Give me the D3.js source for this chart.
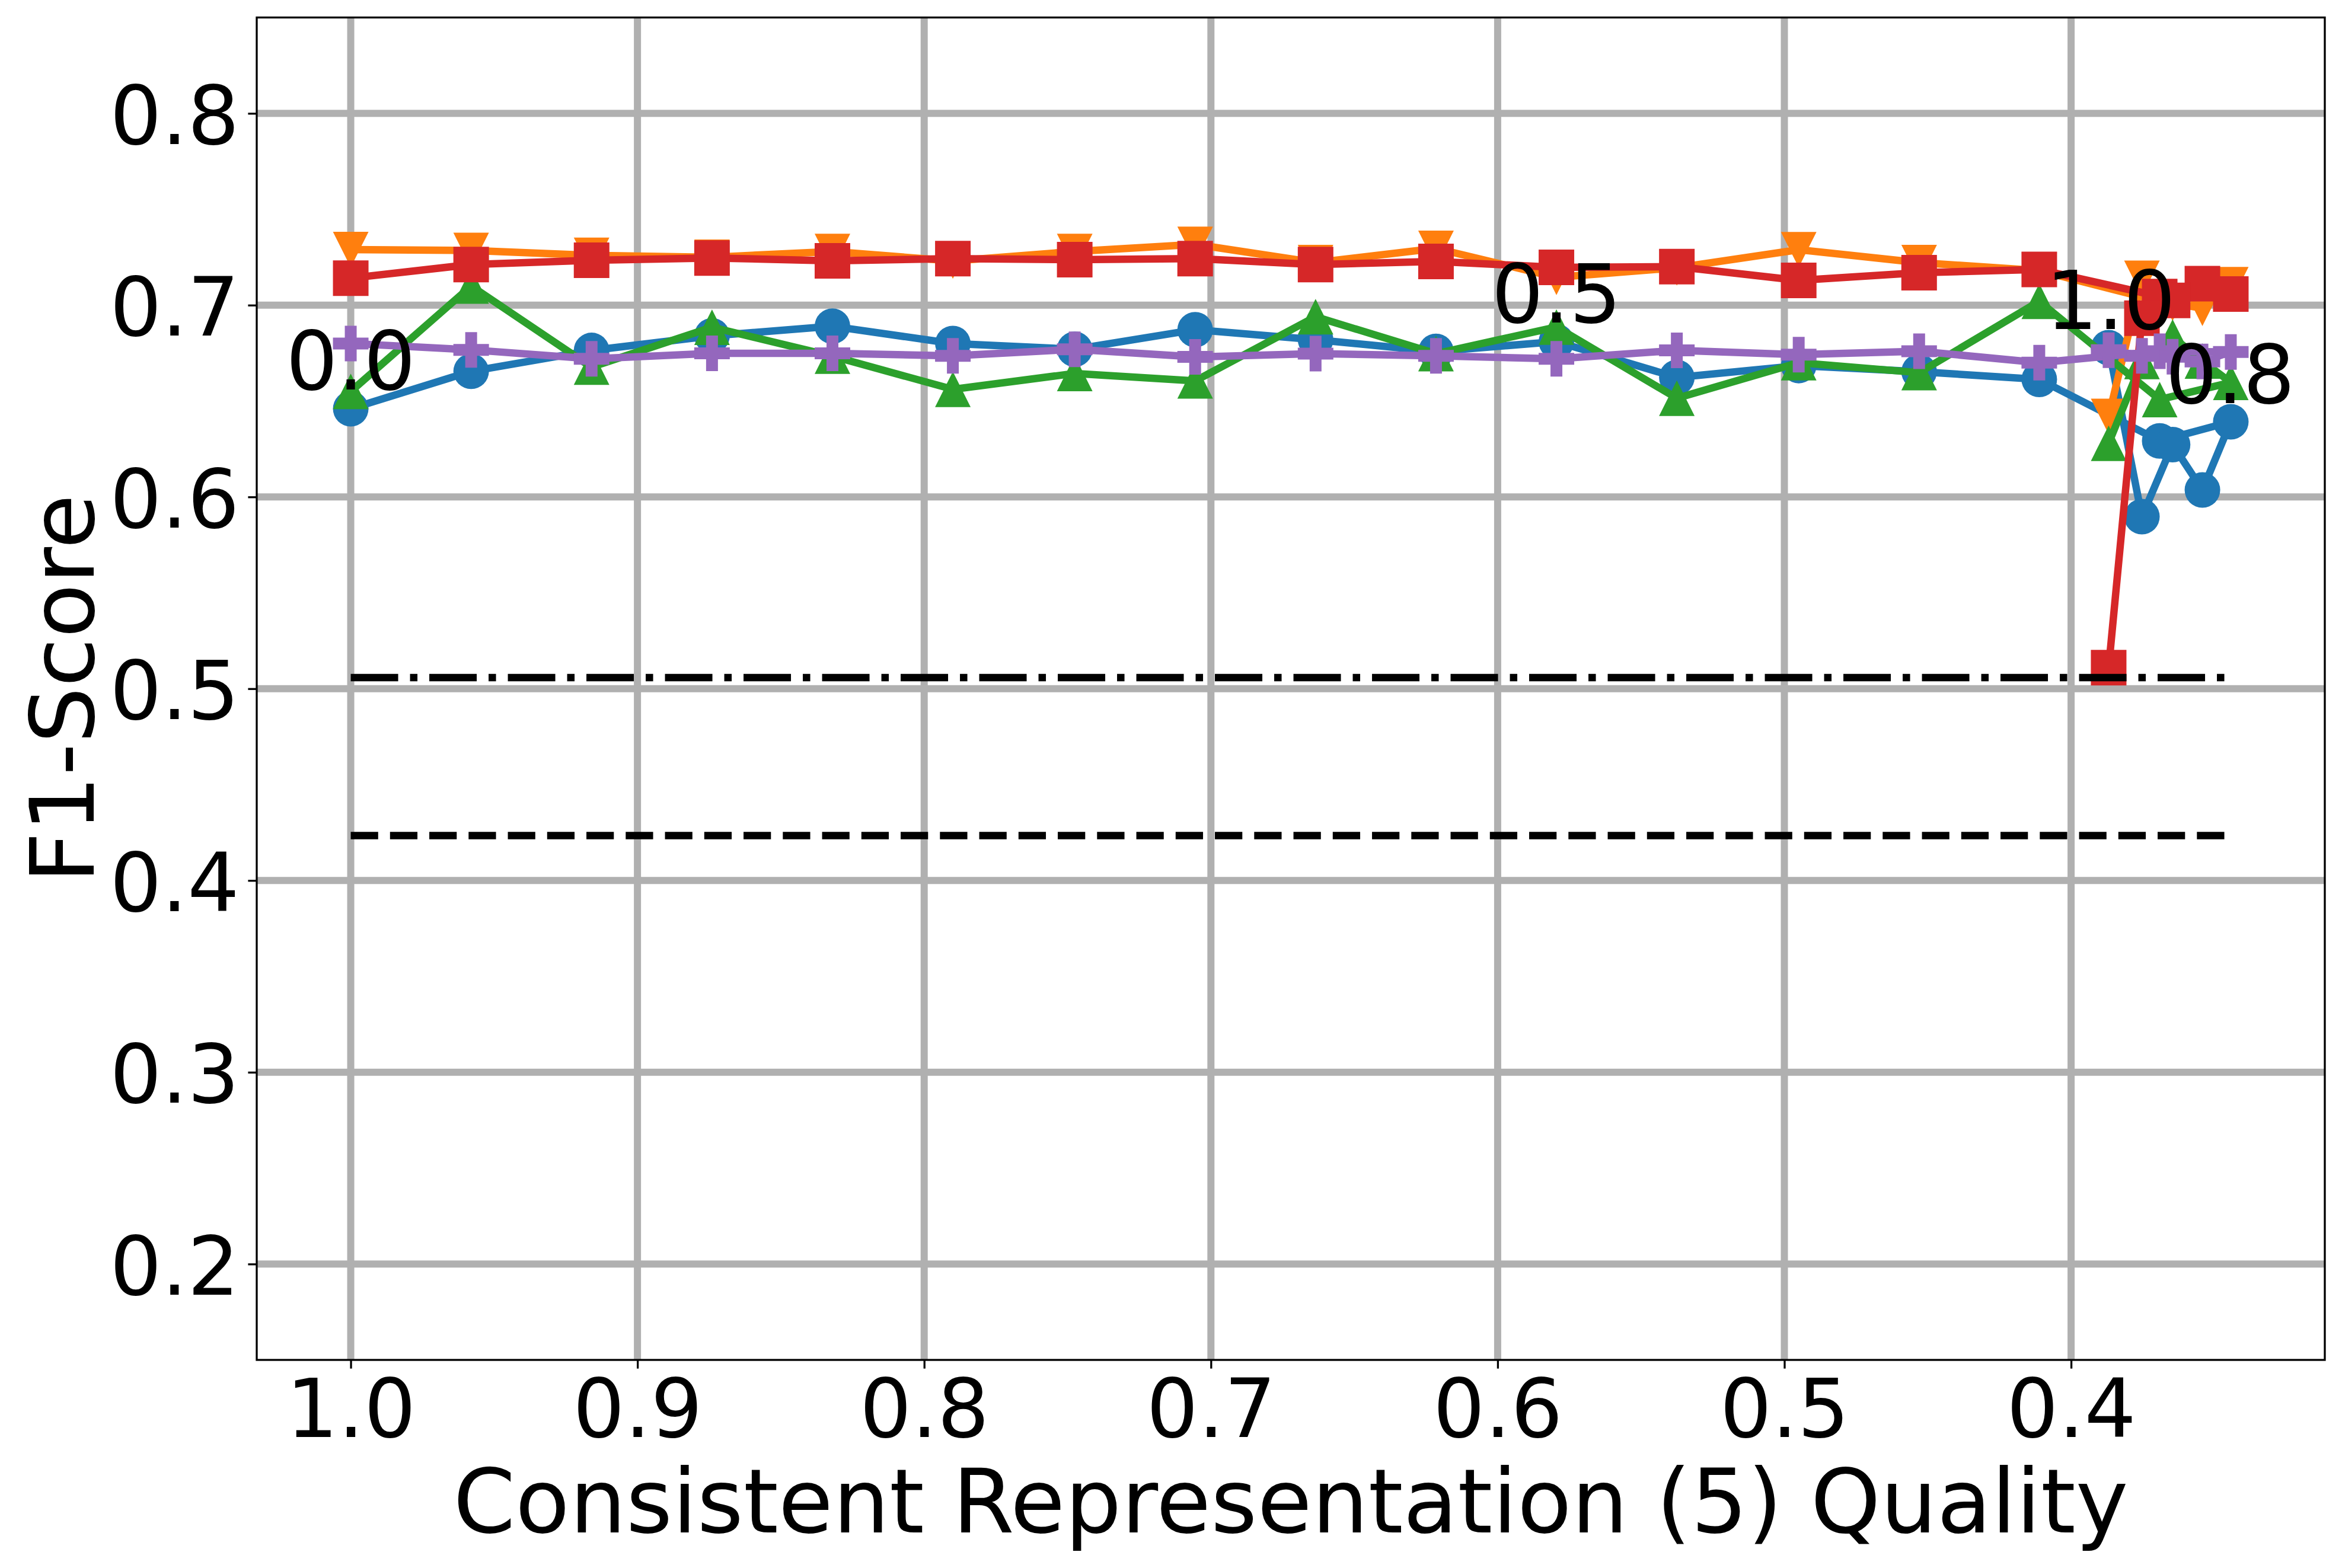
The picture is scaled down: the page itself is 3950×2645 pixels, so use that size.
<!DOCTYPE html>
<html>
<head>
<meta charset="utf-8">
<script src="https://cdn.jsdelivr.net/npm/d3@7"></script>
<style>
  body { margin: 0; background: #fff; }
  text { font-family: "DejaVu Sans", sans-serif; fill: #000; }
</style>
</head>
<body>
<div id="chart"></div>
<script>
// quality values on the x axis, in plotting order
var quality = [1.0, 0.958, 0.916, 0.874, 0.832, 0.790, 0.7475, 0.7055, 0.6635, 0.6215,
               0.5795, 0.5375, 0.4950, 0.4530, 0.4111, 0.3691, 0.3443, 0.3542, 0.3646, 0.3753, 0.3869];

// F1 scores per model
var blueScores   = [0.646, 0.6655, 0.6764, 0.684, 0.689, 0.680, 0.677, 0.6872, 0.682, 0.6759,
                    0.681, 0.6623, 0.6685, 0.6653, 0.6613, 0.6292, 0.6392, 0.6036, 0.6273, 0.5897, 0.6778];
var orangeScores = [0.729, 0.7285, 0.726, 0.725, 0.728, 0.723, 0.728, 0.7317, 0.7222, 0.7296,
                    0.7145, 0.7195, 0.7289, 0.7222, 0.718, 0.702, 0.7107, 0.6984, 0.701, 0.714, 0.642];
var greenScores  = [0.655, 0.710, 0.6677, 0.6885, 0.6734, 0.6561, 0.6644, 0.6605, 0.694, 0.6747,
                    0.6886, 0.6515, 0.670, 0.6648, 0.702, 0.6508, 0.6597, 0.6709, 0.6834, 0.6706, 0.628];
var redScores    = [0.7141, 0.7212, 0.7234, 0.7246, 0.7231, 0.7243, 0.7237, 0.7243, 0.7212, 0.7228,
                    0.7197, 0.7201, 0.7129, 0.7169, 0.7186, 0.7045, 0.7058, 0.7112, 0.7025, 0.6932, 0.511];
var purpleScores = [0.680, 0.6767, 0.672, 0.6749, 0.6749, 0.6736, 0.677, 0.673, 0.6747, 0.6736,
                    0.672, 0.6764, 0.6742, 0.676, 0.670, 0.676, 0.6756, 0.6706, 0.6731, 0.6736, 0.6765];

// horizontal baselines
var dashDotLevel = 0.5058;
var dashedLevel = 0.4234;

// parameter annotations
var noteText = ["0.0", "0.5", "1.0", "0.8"];
var noteX = [1.0, 0.5795, 0.3862, 0.3445];
var noteY = [0.6715, 0.7065, 0.703, 0.6645];

var xTicks = [1.0, 0.9, 0.8, 0.7, 0.6, 0.5, 0.4];
var yTicks = [0.2, 0.3, 0.4, 0.5, 0.6, 0.7, 0.8];
var yRange = [0.15, 0.85];

var xLabel = "Consistent Representation (5) Quality";
var yLabel = "F1-Score";

// ------------------------------------------------------------------ //
// canvas                                                             //
// ------------------------------------------------------------------ //
var W = 3950, H = 2645;
var box = {left: 433, right: 3921, top: 29.5, bottom: 2294};
var lw = 12.5, ms = 60, tickFont = 137.5, labelFont = 150;

var svg = d3.select("#chart").append("svg")
    .attr("width", W)
    .attr("height", H)
    .attr("viewBox", "0 0 " + W + " " + H);
svg.append("rect").attr("width", W).attr("height", H).attr("fill", "#fff");

// x axis goes from high to low quality, with 5% margins like matplotlib
var xExt = d3.extent(quality);
var pad = (xExt[1] - xExt[0]) * 0.05;
var x = d3.scaleLinear()
    .domain([xExt[1] + pad, xExt[0] - pad])
    .range([box.left, box.right]);
var y = d3.scaleLinear()
    .domain(yRange)
    .range([box.bottom, box.top]);

// grid
var grid = svg.append("g").attr("stroke", "#b0b0b0").attr("stroke-width", 12);
grid.selectAll("line.gx").data(xTicks).enter().append("line")
    .attr("x1", function(d){ return x(d); }).attr("x2", function(d){ return x(d); })
    .attr("y1", box.top).attr("y2", box.bottom);
grid.selectAll("line.gy").data(yTicks).enter().append("line")
    .attr("y1", function(d){ return y(d); }).attr("y2", function(d){ return y(d); })
    .attr("x1", box.left).attr("x2", box.right);

// ------------------------------------------------------------------ //
// marker shapes (matplotlib o, v, ^, s, P)                           //
// ------------------------------------------------------------------ //
var h = ms / 2, t = ms / 6;
var shapes = {
  circle: "M" + h + ",0A" + h + "," + h + " 0 1,1 " + (-h) + ",0A" + h + "," + h + " 0 1,1 " + h + ",0Z",
  tdown: "M0," + h + "L" + (-h) + "," + (-h) + "L" + h + "," + (-h) + "Z",
  tup: "M0," + (-h) + "L" + h + "," + h + "L" + (-h) + "," + h + "Z",
  square: "M" + (-h) + "," + (-h) + "H" + h + "V" + h + "H" + (-h) + "Z",
  plus: "M" + (-t) + "," + (-h) + "H" + t + "V" + (-t) + "H" + h + "V" + t + "H" + t + "V" + h +
        "H" + (-t) + "V" + t + "H" + (-h) + "V" + (-t) + "H" + (-t) + "Z"
};

var series = [
  {values: blueScores,   color: "#1f77b4", marker: "circle"},
  {values: orangeScores, color: "#ff7f0e", marker: "tdown"},
  {values: greenScores,  color: "#2ca02c", marker: "tup"},
  {values: redScores,    color: "#d62728", marker: "square"},
  {values: purpleScores, color: "#9467bd", marker: "plus"}
];

var line = d3.line()
    .x(function(d){ return x(d[0]); })
    .y(function(d){ return y(d[1]); });

series.forEach(function(s) {
  var pts = quality.map(function(q, i){ return [q, s.values[i]]; });
  var g = svg.append("g");
  g.append("path")
    .datum(pts)
    .attr("d", line)
    .attr("fill", "none")
    .attr("stroke", s.color)
    .attr("stroke-width", lw)
    .attr("stroke-linejoin", "round")
    .attr("stroke-linecap", "square");
  g.selectAll("path.mk").data(pts).enter().append("path")
    .attr("class", "mk")
    .attr("d", shapes[s.marker])
    .attr("fill", s.color)
    .attr("transform", function(d){ return "translate(" + x(d[0]) + "," + y(d[1]) + ")"; });
});

// baselines
var baseLines = [
  {level: dashDotLevel, dash: [6.4 * lw, 1.6 * lw, 1 * lw, 1.6 * lw]},
  {level: dashedLevel, dash: [3.7 * lw, 1.6 * lw]}
];
svg.selectAll("line.base").data(baseLines).enter().append("line")
  .attr("x1", x(xExt[1])).attr("x2", x(xExt[0]))
  .attr("y1", function(d){ return y(d.level); })
  .attr("y2", function(d){ return y(d.level); })
  .attr("stroke", "#000")
  .attr("stroke-width", lw)
  .attr("stroke-dasharray", function(d){ return d.dash.join(","); });

// annotations
svg.selectAll("text.note").data(noteText).enter().append("text")
  .attr("x", function(d, i){ return x(noteX[i]); })
  .attr("y", function(d, i){ return y(noteY[i]) + 0.364 * tickFont; })
  .attr("text-anchor", "middle")
  .style("font-size", tickFont + "px")
  .text(function(d){ return d; });

// ------------------------------------------------------------------ //
// axes                                                               //
// ------------------------------------------------------------------ //
var xAxis = svg.append("g")
  .attr("transform", "translate(0," + box.bottom + ")")
  .call(d3.axisBottom(x).tickValues(xTicks).tickFormat(d3.format(".1f"))
        .tickSize(14.6).tickSizeOuter(0).tickPadding(17.8));
var yAxis = svg.append("g")
  .attr("transform", "translate(" + box.left + ",0)")
  .call(d3.axisLeft(y).tickValues(yTicks).tickFormat(d3.format(".1f"))
        .tickSize(14.6).tickSizeOuter(0).tickPadding(14.6));
[xAxis, yAxis].forEach(function(a) {
  a.select(".domain").remove();
  a.selectAll("line").attr("stroke", "#000").attr("stroke-width", 3.3);
  a.selectAll("text").style("font-size", tickFont + "px")
    .style("font-family", "'DejaVu Sans', sans-serif").attr("fill", "#000");
});
yAxis.selectAll("text").attr("dy", "0.37em");

// frame
svg.append("rect")
  .attr("x", box.left).attr("y", box.top)
  .attr("width", box.right - box.left).attr("height", box.bottom - box.top)
  .attr("fill", "none").attr("stroke", "#000").attr("stroke-width", 3.3);

// axis labels
svg.append("text")
  .attr("x", (box.left + box.right) / 2)
  .attr("y", 2585)
  .attr("text-anchor", "middle")
  .style("font-size", labelFont + "px")
  .text(xLabel);
svg.append("text")
  .attr("transform", "translate(158," + (box.top + box.bottom) / 2 + ") rotate(-90)")
  .attr("text-anchor", "middle")
  .style("font-size", labelFont + "px")
  .text(yLabel);
</script>
</body>
</html>
